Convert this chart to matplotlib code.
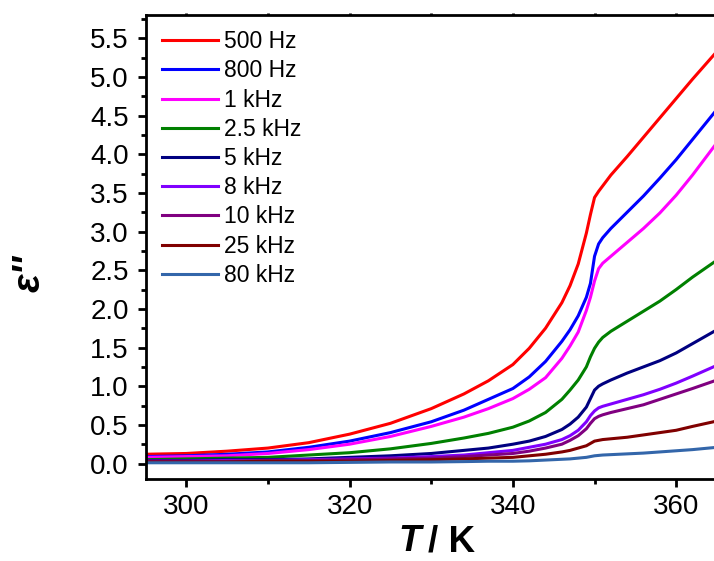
import numpy as np
import matplotlib
matplotlib.use('Agg')
import matplotlib.pyplot as plt
from matplotlib.ticker import MultipleLocator

plt.rcParams['font.family'] = ['Liberation Sans', 'DejaVu Sans']

##########################################################################
#   Data: temperature grid and eps'' per frequency
##########################################################################
temps = [295, 300, 305, 310, 315, 320, 325, 330, 334, 337, 340, 342, 344, 346, 347, 348,
         349, 349.5, 350, 350.5, 351, 352, 354, 356, 358, 360, 362, 365]

labels = ['500 Hz', '800 Hz', '1 kHz', '2.5 kHz', '5 kHz', '8 kHz', '10 kHz', '25 kHz', '80 kHz']
colors = ['#FF0000', '#0000FF', '#FF00FF', '#008000', '#000080', '#8000FF', '#800080', '#800000', '#3366AA']

eps_500 = [0.12, 0.13, 0.16, 0.20, 0.27, 0.38, 0.52, 0.71, 0.90, 1.07, 1.28, 1.49, 1.75, 2.08, 2.30, 2.58,
           2.98, 3.22, 3.44, 3.52, 3.59, 3.73, 3.97, 4.22, 4.47, 4.72, 4.97, 5.33]
eps_800 = [0.09, 0.10, 0.12, 0.15, 0.21, 0.29, 0.40, 0.54, 0.69, 0.83, 0.97, 1.12, 1.32, 1.58, 1.73, 1.91,
           2.15, 2.33, 2.68, 2.84, 2.92, 3.04, 3.25, 3.46, 3.69, 3.93, 4.19, 4.58]
eps_1k = [0.08, 0.09, 0.10, 0.13, 0.18, 0.25, 0.35, 0.48, 0.60, 0.71, 0.84, 0.96, 1.11, 1.36, 1.52, 1.70,
          1.98, 2.15, 2.36, 2.52, 2.59, 2.68, 2.86, 3.04, 3.24, 3.47, 3.73, 4.15]
eps_2k5 = [0.05, 0.06, 0.07, 0.08, 0.11, 0.14, 0.19, 0.26, 0.33, 0.39, 0.47, 0.55, 0.66, 0.83, 0.95, 1.08,
           1.25, 1.38, 1.49, 1.57, 1.63, 1.71, 1.84, 1.97, 2.10, 2.25, 2.41, 2.63]
eps_5k = [0.04, 0.04, 0.05, 0.05, 0.06, 0.08, 0.10, 0.13, 0.17, 0.20, 0.25, 0.29, 0.35, 0.44, 0.51, 0.60,
          0.73, 0.84, 0.95, 1.00, 1.03, 1.08, 1.17, 1.25, 1.33, 1.43, 1.55, 1.73]
eps_8k = [0.03, 0.03, 0.04, 0.04, 0.05, 0.06, 0.07, 0.09, 0.11, 0.14, 0.17, 0.21, 0.25, 0.31, 0.36, 0.43,
          0.54, 0.62, 0.68, 0.72, 0.74, 0.77, 0.83, 0.89, 0.96, 1.04, 1.13, 1.27]
eps_10k = [0.03, 0.03, 0.03, 0.04, 0.04, 0.05, 0.06, 0.07, 0.09, 0.11, 0.13, 0.16, 0.20, 0.25, 0.30, 0.36,
           0.45, 0.52, 0.58, 0.61, 0.63, 0.66, 0.71, 0.76, 0.83, 0.90, 0.97, 1.08]
eps_25k = [0.02, 0.02, 0.02, 0.03, 0.03, 0.03, 0.04, 0.05, 0.06, 0.07, 0.08, 0.10, 0.12, 0.15, 0.17, 0.20,
           0.23, 0.26, 0.29, 0.30, 0.31, 0.32, 0.34, 0.37, 0.40, 0.43, 0.48, 0.55]
eps_80k = [0.01, 0.01, 0.01, 0.01, 0.01, 0.015, 0.02, 0.02, 0.025, 0.03, 0.03, 0.035, 0.045, 0.055, 0.06, 0.07,
           0.08, 0.09, 0.10, 0.105, 0.11, 0.115, 0.125, 0.135, 0.15, 0.165, 0.18, 0.21]

series = [eps_500, eps_800, eps_1k, eps_2k5, eps_5k, eps_8k, eps_10k, eps_25k, eps_80k]

##########################################################################
#   Drawing
##########################################################################
fig = plt.figure(figsize=(7.14, 5.61), dpi=100)
ax = fig.add_axes([145.5 / 714, 1 - 479 / 561, (717 - 145.5) / 714, 464 / 561])

for vals, lab, col in zip(series, labels, colors):
    ax.plot(temps, vals, color=col, lw=2.2, label=lab, solid_joinstyle='round')

ax.set_xlim(295, 365)
ax.set_ylim(-0.2, 5.8)

ax.xaxis.set_major_locator(MultipleLocator(20))
ax.xaxis.set_minor_locator(MultipleLocator(10))
ax.yaxis.set_major_locator(MultipleLocator(0.5))
ax.yaxis.set_minor_locator(MultipleLocator(0.25))
ax.yaxis.set_major_formatter(plt.FormatStrFormatter('%.1f'))

ax.tick_params(axis='both', which='major', direction='out', length=6, width=2, labelsize=20)
ax.tick_params(axis='both', which='minor', direction='out', length=3.5, width=2)
ax.tick_params(axis='x', which='both', top=True, pad=5)
ax.tick_params(axis='y', which='major', pad=6)
for sp in ax.spines.values():
    sp.set_linewidth(2)
ax.spines['right'].set_visible(False)

# tiny top ticks like the original
for t in ax.xaxis.get_major_ticks() + ax.xaxis.get_minor_ticks():
    t.tick2line.set_markersize(1.5)

leg = ax.legend(loc='upper left', bbox_to_anchor=(0.029, 0.967), frameon=False,
                fontsize=16.5, handlelength=2.45, handletextpad=0.26,
                labelspacing=0.27, borderpad=0, borderaxespad=0)

fig.text(30 / 714, 1 - 273 / 561, "ε''", rotation=90, ha='center', va='center',
         fontsize=28, fontweight='bold', fontstyle='italic')
fig.text(398 / 714, 0.003, 'T', ha='left', va='bottom',
         fontsize=26.5, fontweight='bold', fontstyle='italic')
fig.text(428 / 714, 0.003, '/ K', ha='left', va='bottom',
         fontsize=26.5, fontweight='bold')

fig.savefig('out.png', dpi=100)
